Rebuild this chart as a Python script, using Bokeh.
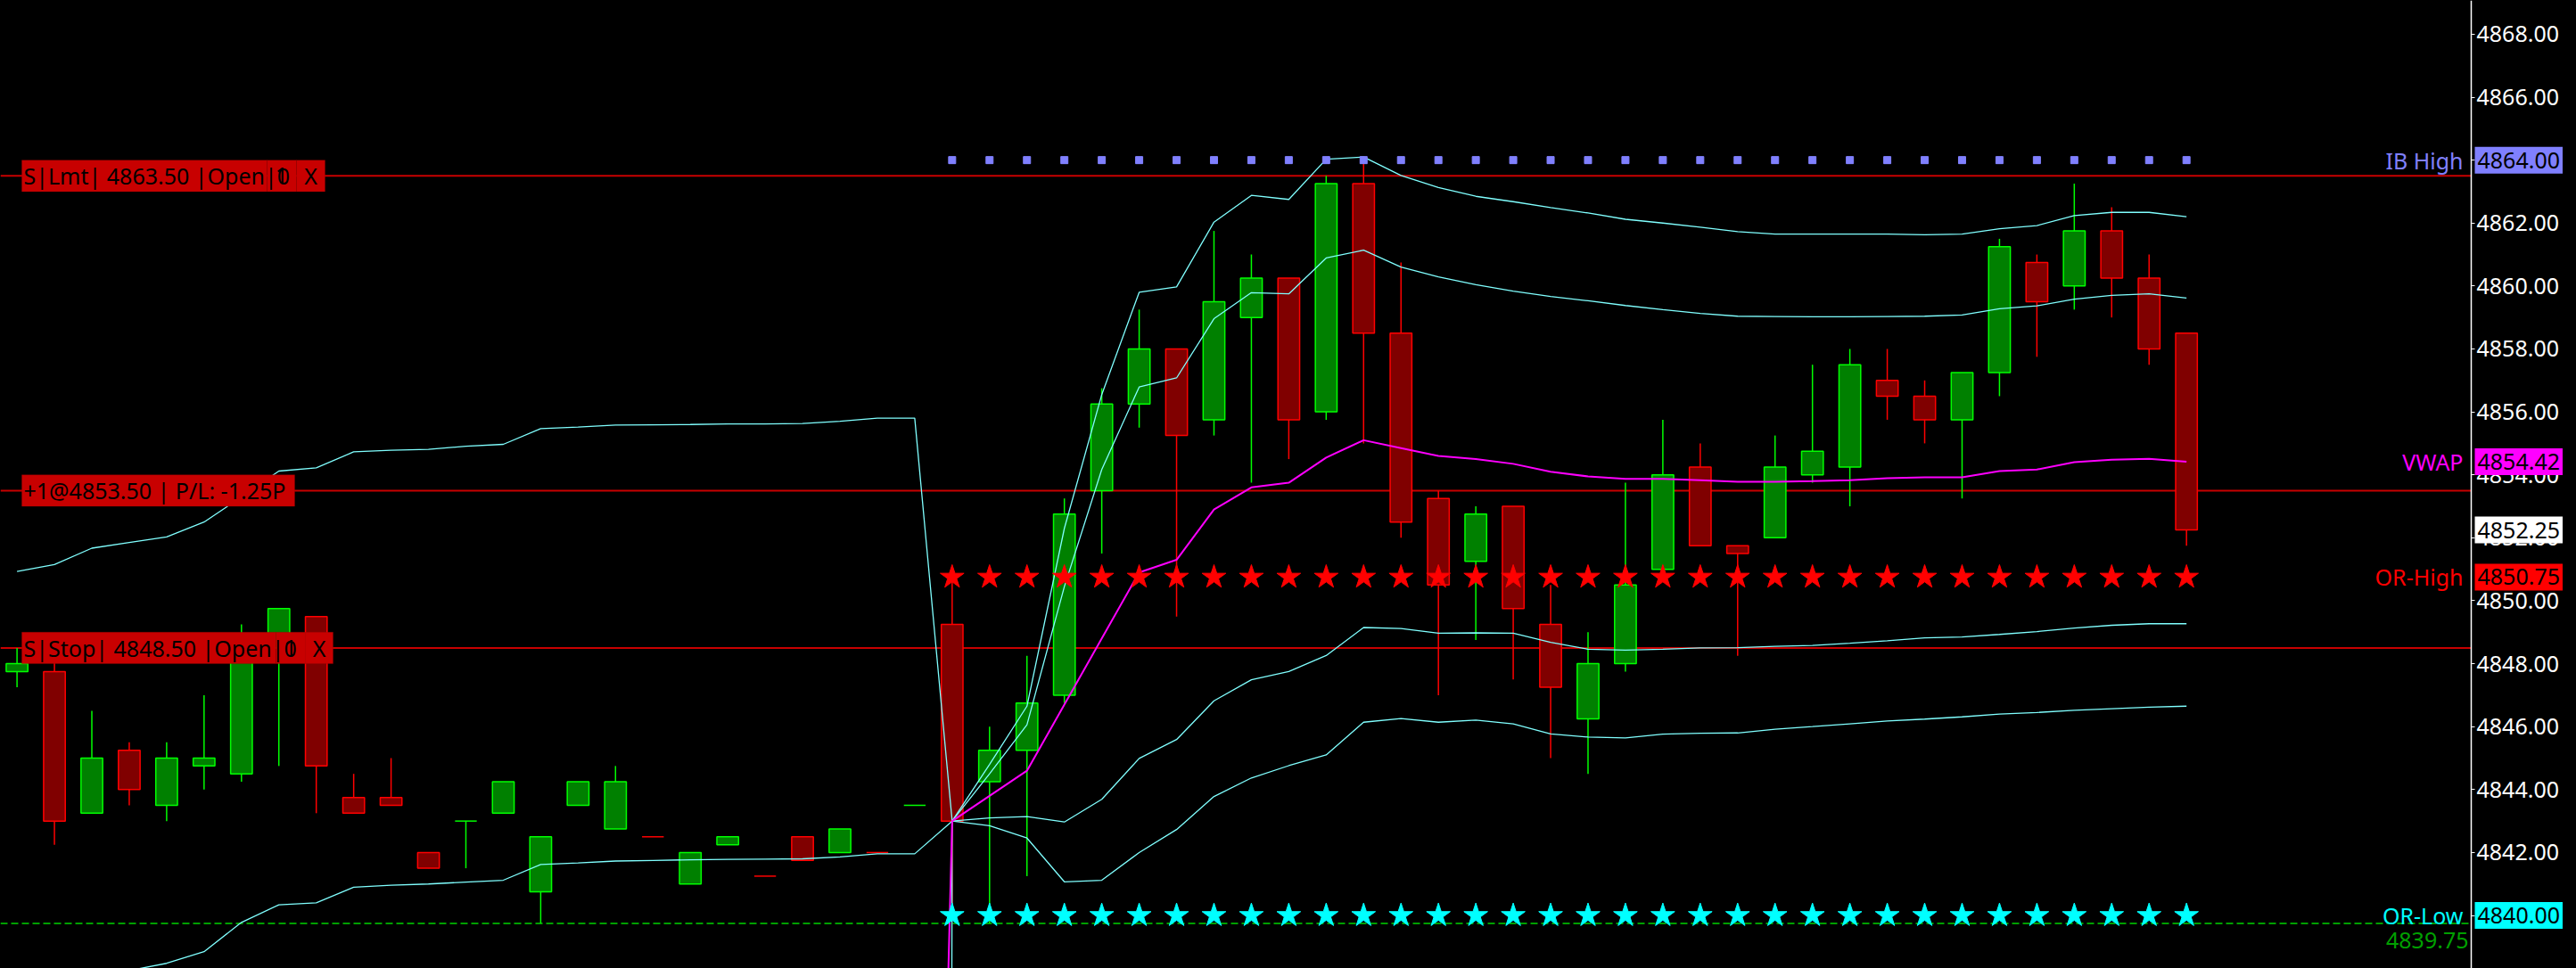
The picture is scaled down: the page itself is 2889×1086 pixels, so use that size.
from bokeh.plotting import figure
from bokeh.models import (Range1d, Label, BoxAnnotation, ColumnDataSource, LinearAxis,
                          SingleIntervalTicker, NumeralTickFormatter)
from bokeh.embed import file_html
from bokeh.resources import INLINE

# --- bars (index 0..58), ES 1-min ---
opens = [4847.75, 4847.75, 4843.25, 4845.25, 4843.5, 4844.75, 4844.5, 4848.5, 4849.5, 4843.75,
         4843.75, 4842.0, 4843.0, 4843.25, 4840.75, 4843.5, 4842.75, 4842.5, 4841.0, 4842.25,
         4841.25, 4842.5, 4842.0, 4842.0, 4843.5, 4849.25, 4844.25, 4845.25, 4847.0, 4853.5,
         4856.25, 4858.0, 4855.75, 4859.0, 4860.25, 4856.0, 4863.25, 4858.5, 4853.25, 4851.25,
         4853.0, 4849.25, 4846.25, 4848.0, 4851.0, 4854.25, 4851.75, 4852.0, 4854.0, 4854.25,
         4857.0, 4856.5, 4855.75, 4857.25, 4860.75, 4860.0, 4861.75, 4860.25, 4858.5]
highs = [4848.5, 4848.25, 4846.5, 4845.5, 4845.5, 4847.0, 4849.25, 4849.75, 4849.5, 4844.5,
         4845.0, 4842.0, 4843.0, 4844.25, 4842.5, 4844.25, 4844.75, 4842.5, 4842.0, 4842.5,
         4841.25, 4842.5, 4842.75, 4842.0, 4843.5, 4850.75, 4846.0, 4848.25, 4853.25, 4856.75,
         4859.25, 4858.0, 4861.75, 4861.0, 4860.25, 4863.5, 4864.0, 4860.75, 4853.5, 4853.0,
         4853.0, 4850.5, 4849.0, 4853.75, 4855.75, 4855.0, 4851.75, 4855.25, 4857.5, 4858.0,
         4858.0, 4857.0, 4857.25, 4861.5, 4861.0, 4863.25, 4862.5, 4861.0, 4858.5]
lows = [4847.25, 4842.25, 4843.25, 4843.5, 4843.0, 4844.0, 4844.25, 4844.75, 4843.25, 4843.25,
        4843.5, 4841.5, 4841.5, 4843.25, 4839.75, 4843.5, 4842.75, 4842.5, 4841.0, 4842.25,
        4841.25, 4841.75, 4842.0, 4842.0, 4843.5, 4840.0, 4839.75, 4841.25, 4846.75, 4851.5,
        4855.5, 4849.5, 4855.25, 4853.75, 4854.5, 4855.75, 4855.0, 4852.0, 4847.0, 4848.75,
        4847.5, 4845.0, 4844.5, 4847.75, 4851.0, 4851.75, 4848.25, 4852.0, 4853.75, 4853.0,
        4855.75, 4855.0, 4853.25, 4856.5, 4857.75, 4859.25, 4859.0, 4857.5, 4851.75]
closes = [4848.0, 4843.0, 4845.0, 4844.0, 4845.0, 4845.0, 4848.5, 4849.75, 4844.75, 4843.25,
          4843.5, 4841.5, 4843.0, 4844.25, 4842.5, 4844.25, 4844.25, 4842.5, 4842.0, 4842.5,
          4841.25, 4841.75, 4842.75, 4842.0, 4843.5, 4843.0, 4845.25, 4846.75, 4852.75, 4856.25,
          4858.0, 4855.25, 4859.5, 4860.25, 4855.75, 4863.25, 4858.5, 4852.5, 4850.5, 4852.75,
          4849.75, 4847.25, 4848.0, 4850.5, 4854.0, 4851.75, 4851.5, 4854.25, 4854.75, 4857.5,
          4856.5, 4855.75, 4857.25, 4861.25, 4859.5, 4861.75, 4860.25, 4858.0, 4852.25]

# --- previous-session bands (bars 0..25) ---
pre_x = list(range(0, 26))
pre_upper = [4850.93, 4851.15, 4851.67, 4851.85, 4852.03, 4852.5, 4853.3, 4854.12, 4854.22, 4854.73,
             4854.78, 4854.81, 4854.91, 4854.97, 4855.47, 4855.52, 4855.58, 4855.59, 4855.6, 4855.62,
             4855.62, 4855.63, 4855.7, 4855.8, 4855.8, 4843.0]
pre_lower = [4837.3, 4837.5, 4838.0, 4838.25, 4838.48, 4838.85, 4839.78, 4840.34, 4840.4, 4840.9,
             4840.96, 4841.0, 4841.06, 4841.12, 4841.62, 4841.67, 4841.73, 4841.75, 4841.77, 4841.78,
             4841.79, 4841.8, 4841.86, 4841.96, 4841.96, 4843.0]

# --- session VWAP and bands ---
vwap_x = list(range(24, 59))
vwap = [4796.0, 4843.0, 4843.8, 4844.6, 4846.7, 4848.8, 4850.9, 4851.3, 4852.9, 4853.6,
        4853.75, 4854.55, 4855.1, 4854.85, 4854.6, 4854.5, 4854.35, 4854.1, 4853.95, 4853.87,
        4853.87, 4853.83, 4853.78, 4853.78, 4853.8, 4853.83, 4853.89, 4853.92, 4853.92, 4854.12,
        4854.17, 4854.4, 4854.48, 4854.51, 4854.42]
band_x = list(range(25, 59))
band_up2 = [4843.0, 4844.8, 4846.65, 4852.3, 4856.55, 4859.8, 4859.97, 4862.03, 4862.88, 4862.75,
            4864.03, 4864.1, 4863.51, 4863.13, 4862.85, 4862.68, 4862.49, 4862.32, 4862.12, 4862.0,
            4861.87, 4861.73, 4861.65, 4861.65, 4861.65, 4861.65, 4861.63, 4861.65, 4861.82, 4861.92,
            4862.24, 4862.34, 4862.34, 4862.2]
band_up1 = [4843.0, 4844.5, 4846.06, 4850.45, 4854.17, 4856.79, 4857.08, 4858.96, 4859.79, 4859.75,
            4860.89, 4861.14, 4860.6, 4860.29, 4860.04, 4859.84, 4859.67, 4859.53, 4859.38, 4859.25,
            4859.13, 4859.04, 4859.03, 4859.02, 4859.02, 4859.03, 4859.04, 4859.08, 4859.28, 4859.37,
            4859.58, 4859.7, 4859.75, 4859.62]
band_dn1 = [4843.0, 4843.1, 4843.14, 4842.97, 4843.69, 4844.99, 4845.59, 4846.82, 4847.49, 4847.75,
            4848.26, 4849.15, 4849.12, 4848.97, 4848.98, 4848.97, 4848.68, 4848.46, 4848.43, 4848.46,
            4848.5, 4848.51, 4848.55, 4848.58, 4848.65, 4848.73, 4848.82, 4848.85, 4848.93, 4849.02,
            4849.13, 4849.22, 4849.27, 4849.27]
band_dn2 = [4200.0, 4843.0, 4842.85, 4842.46, 4841.07, 4841.12, 4842.0, 4842.73, 4843.78, 4844.37,
            4844.76, 4845.1, 4846.14, 4846.26, 4846.14, 4846.21, 4846.09, 4845.77, 4845.67, 4845.64,
            4845.76, 4845.79, 4845.8, 4845.92, 4846.0, 4846.09, 4846.18, 4846.24, 4846.31, 4846.4,
            4846.45, 4846.52, 4846.57, 4846.62, 4846.65]

# --- levels ---
or_x = list(range(25, 59))
or_high = [4850.75] * len(or_x)
or_low = [4840.00] * len(or_x)
ib_high = [4864.00] * len(or_x)
session_low = 4839.75
last_price = closes[-1]
vwap_last = 4854.42

order_texts = ["S|Lmt| 4863.50 |Open|0", "+1@4853.50 | P/L: -1.25P", "S|Stop| 4848.50 |Open|0"]
order_prices = [4863.50, 4853.50, 4848.50]

# colours
UP_FILL, UP_LINE = "#008000", "#00FF00"
DN_FILL, DN_LINE = "#800000", "#FF0000"
BAND = "#80FFFF"
ORDER_RED = "#C80000"
FONT = "Noto Sans"

idx = list(range(len(closes)))
up = []
for i in idx:
    if closes[i] != opens[i]:
        up.append(closes[i] > opens[i])
    else:
        up.append(i == 0 or closes[i] >= closes[i - 1])
line_col = [UP_LINE if u else DN_LINE for u in up]
fill_col = [UP_FILL if u else DN_FILL for u in up]

body = [i for i in idx if opens[i] != closes[i]]
doji = [i for i in idx if opens[i] == closes[i]]
bw = 0.58

wick_src = ColumnDataSource(dict(x=idx, lo=lows, hi=highs, c=line_col))
body_src = ColumnDataSource(dict(
    x=body,
    top=[max(opens[i], closes[i]) for i in body],
    bot=[min(opens[i], closes[i]) for i in body],
    f=[fill_col[i] for i in body],
    c=[line_col[i] for i in body]))
doji_src = ColumnDataSource(dict(
    x0=[i - bw / 2 for i in doji], x1=[i + bw / 2 for i in doji],
    y=[closes[i] for i in doji], c=[line_col[i] for i in doji]))

# frame spans the whole window; the price scale sits inside it at axis_x
x_start, x_end, axis_x = -0.4434, 68.425, 65.612
p = figure(frame_width=2889, frame_height=1086,
           x_range=Range1d(x_start, x_end), y_range=Range1d(4838.317, 4869.073),
           output_backend="svg", toolbar_location=None,
           x_axis_location=None, y_axis_location=None,
           background_fill_color="black", border_fill_color="black", min_border=0)
p.grid.visible = False
p.outline_line_color = None

ax = LinearAxis(fixed_location=axis_x)
ax.ticker = SingleIntervalTicker(interval=2)
ax.formatter = NumeralTickFormatter(format="0.00")
ax.axis_line_color = "white"
ax.axis_line_width = 1.5
ax.major_tick_line_color = "white"
ax.major_tick_out = 4
ax.major_tick_in = 0
ax.minor_tick_line_color = None
ax.major_label_text_color = "white"
ax.major_label_text_font = FONT
ax.major_label_text_font_size = "25px"
ax.major_label_standoff = 2
p.add_layout(ax, "right")

# order lines and session-low line, ending at the price scale
n = len(order_prices)
p.segment(x0=[x_start] * n, x1=[axis_x] * n, y0=order_prices, y1=order_prices,
          line_color=ORDER_RED, line_width=2)
p.segment(x0=[x_start], x1=[axis_x], y0=[session_low], y1=[session_low],
          line_color="#00A000", line_width=2, line_dash="8 4")

# candles
p.segment(x0="x", x1="x", y0="lo", y1="hi", line_color="c", line_width=1.5, source=wick_src)
p.vbar(x="x", width=bw, top="top", bottom="bot", fill_color="f", line_color="c",
       line_width=1.5, source=body_src)
p.segment(x0="x0", x1="x1", y0="y", y1="y", line_color="c", line_width=1.5, source=doji_src)

# bands and vwap
for xs, ys in [(pre_x, pre_upper), (pre_x, pre_lower), (band_x, band_up2),
               (band_x, band_up1), (band_x, band_dn1), (vwap_x, band_dn2)]:
    p.line(xs, ys, line_color=BAND, line_width=1.3)
p.line(vwap_x, vwap, line_color="#FF00FF", line_width=2)

# opening range / initial balance markers
p.scatter(or_x, or_high, marker="star", size=28, fill_color="#FF0000", line_color="#FF0000")
p.scatter(or_x, or_low, marker="star", size=28, fill_color="#00FFFF", line_color="#00FFFF")
p.scatter(or_x, ib_high, marker="square", size=8, fill_color="#8080FF", line_color="#8080FF")

# order label boxes (pixel cells)
cells = [[(24, 299), (299, 332), (332, 364)],
         [(24, 330)],
         [(24, 309), (309, 342), (342, 373)]]
for txt, price, cl in zip(order_texts, order_prices, cells):
    for l, r in cl:
        p.add_layout(BoxAnnotation(left=l, right=r, left_units="screen", right_units="screen",
                                   bottom=price - 0.5, top=price + 0.5,
                                   fill_color=ORDER_RED, fill_alpha=1.0,
                                   line_color="#9A0000", line_width=1))
    parts = [txt, "1", "X"] if len(cl) == 3 else [txt]
    for k, part in enumerate(parts):
        l, r = cl[k]
        if k == 0:
            p.add_layout(Label(x=l + 2, x_units="screen", y=price, text=part, text_align="left",
                               text_baseline="middle", text_color="black",
                               text_font=FONT, text_font_size="25px"))
        else:
            p.add_layout(Label(x=(l + r) / 2, x_units="screen", y=price, text=part,
                               text_align="center", text_baseline="middle", text_color="black",
                               text_font=FONT, text_font_size="25px"))

# level names left of the price scale
names = [("IB High", ib_high[0], "#8080FF"), ("VWAP", vwap_last, "#FF00FF"),
         ("OR-High", or_high[0], "#FF0000"), ("OR-Low", or_low[0], "#00FFFF")]
for name, v, col in names:
    p.add_layout(Label(x=axis_x, x_offset=-9, y=v, text=name, text_align="right",
                       text_baseline="middle", text_color=col,
                       text_font=FONT, text_font_size="25px"))
p.add_layout(Label(x=axis_x, x_offset=-3, y=session_low, y_offset=-10, text=f"{session_low:.2f}",
                   text_align="right", text_baseline="top", text_color="#00A000",
                   text_font=FONT, text_font_size="25px"))

# price tags on the scale
tags = [(ib_high[0], "#8080FF"), (vwap_last, "#FF00FF"), (last_price, "#FFFFFF"),
        (or_high[0], "#FF0000"), (or_low[0], "#00FFFF")]
for v, col in tags:
    p.add_layout(Label(x=axis_x, x_offset=4, y=v, text=f"{v:.2f}", text_align="left",
                       text_baseline="middle", text_color="black",
                       text_font=FONT, text_font_size="25px",
                       background_fill_color=col,
                       padding=dict(left=3, right=3, top=6, bottom=6)))

html = file_html(p, INLINE, title="chart").replace(
    "<body>", '<body style="background:#000;margin:0;overflow:hidden">')
open("out.html", "w").write(html)
